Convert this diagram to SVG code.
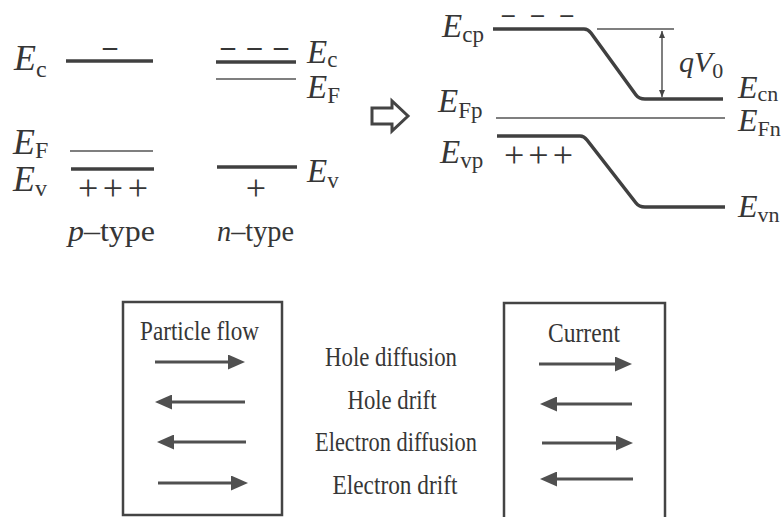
<svg xmlns="http://www.w3.org/2000/svg" width="782" height="517" viewBox="0 0 782 517">
<defs>
<style>
.t{font-family:"Liberation Serif","Times New Roman",serif;fill:#363636;}
.i{font-style:italic;}
.n{font-style:normal;}
.d{font-weight:bold;}
.thick{stroke:#404040;stroke-width:3.5;fill:none;stroke-linejoin:round;}
.thin{stroke:#555;stroke-width:1.5;fill:none;}
.box{stroke:#444;stroke-width:2.5;fill:none;}
.arr{stroke:#505050;stroke-width:3;fill:none;marker-end:url(#ah);}
</style>
<marker id="ah" markerUnits="userSpaceOnUse" markerWidth="17" markerHeight="15" refX="4" refY="7.5" orient="auto">
<path d="M0,0 L17,7.5 L0,15 Z" fill="#505050"/>
</marker>
<marker id="sa" markerUnits="userSpaceOnUse" markerWidth="8" markerHeight="8" refX="7" refY="4" orient="auto-start-reverse">
<path d="M0,1 L7,4 L0,7 Z" fill="#444"/>
</marker>
</defs>
<rect width="782" height="517" fill="#fff"/>

<g id="p-type">
<line class="thick" x1="66" y1="61" x2="153" y2="61"/>
<line class="thin" x1="70" y1="151" x2="153" y2="151"/>
<line class="thick" x1="71" y1="169" x2="154" y2="169"/>
<text class="t d" x="110" y="55" font-size="28" text-anchor="middle">–</text>
<text class="t" x="78" y="200" font-size="36" textLength="70" lengthAdjust="spacing">+++</text>
<text class="t i" x="14" y="70" font-size="36">E<tspan class="n" font-size="24" dy="7">c</tspan></text>
<text class="t i" x="13" y="154" font-size="36">E<tspan class="n" font-size="24" dy="4">F</tspan></text>
<text class="t i" x="13" y="191" font-size="36">E<tspan class="n" font-size="24" dy="5">v</tspan></text>
<text class="t" x="68" y="241" font-size="30" textLength="87" lengthAdjust="spacingAndGlyphs"><tspan class="i">p</tspan>–type</text>
</g>

<g id="n-type">
<line class="thick" x1="216" y1="62" x2="296" y2="62"/>
<line class="thin" x1="216" y1="79" x2="296" y2="79"/>
<line class="thick" x1="217" y1="167" x2="297" y2="167"/>
<text class="t d" x="221" y="55" font-size="28" textLength="67" lengthAdjust="spacing">–––</text>
<text class="t" x="256" y="200" font-size="36" text-anchor="middle">+</text>
<text class="t i" x="307" y="63" font-size="33">E<tspan class="n" font-size="23" dy="4">c</tspan></text>
<text class="t i" x="307" y="98" font-size="33">E<tspan class="n" font-size="23" dy="5">F</tspan></text>
<text class="t i" x="307" y="182" font-size="33">E<tspan class="n" font-size="23" dy="6">v</tspan></text>
<text class="t" x="217" y="241" font-size="30" textLength="77" lengthAdjust="spacingAndGlyphs"><tspan class="i">n</tspan>–type</text>
</g>

<g id="transition-arrow">
<path d="M372,108 L392,108 L392,101 L408,116 L392,131 L392,124 L372,124 Z" fill="#fff" stroke="#444" stroke-width="3" stroke-linejoin="miter"/>
</g>

<g id="junction">
<path class="thick" d="M493,29 L584,29 Q588,29 591,33 L636,95 Q639,99 645,99 L723,99"/>
<path class="thick" d="M497,136 L580,136 Q584,136 587,140 L636,203 Q639,207 645,207 L725,207"/>
<line class="thin" x1="496" y1="118" x2="725" y2="118"/>
<line class="thin" x1="597" y1="29" x2="674" y2="29"/>
<text class="t d" x="502" y="22" font-size="25" textLength="71" lengthAdjust="spacing">–––</text>
<text class="t" x="504" y="167" font-size="36" textLength="69" lengthAdjust="spacing">+++</text>
<text class="t i" x="442" y="37" font-size="33">E<tspan class="n" font-size="23" dy="5">cp</tspan></text>
<text class="t i" x="438" y="112" font-size="33">E<tspan class="n" font-size="23" dy="6">Fp</tspan></text>
<text class="t i" x="440" y="163" font-size="33">E<tspan class="n" font-size="23" dy="5">vp</tspan></text>
<text class="t i" x="738" y="98" font-size="32">E<tspan class="n" font-size="22" dy="3">cn</tspan></text>
<text class="t i" x="738" y="131" font-size="32">E<tspan class="n" font-size="22" dy="5">Fn</tspan></text>
<text class="t i" x="738" y="217" font-size="32">E<tspan class="n" font-size="22" dy="5">vn</tspan></text>
<text class="t i" x="679" y="72" font-size="30">qV<tspan class="n" font-size="22" dy="6">0</tspan></text>
</g>

<g id="particle-flow-box">
<rect class="box" x="123" y="302" width="159" height="213"/>
<text class="t" x="140" y="340" font-size="28" textLength="119" lengthAdjust="spacingAndGlyphs">Particle flow</text>
</g>

<g id="labels">
<text class="t" x="391" y="366" font-size="28" text-anchor="middle" textLength="132" lengthAdjust="spacingAndGlyphs">Hole diffusion</text>
<text class="t" x="392" y="409" font-size="28" text-anchor="middle" textLength="89" lengthAdjust="spacingAndGlyphs">Hole drift</text>
<text class="t" x="396" y="451" font-size="28" text-anchor="middle" textLength="162" lengthAdjust="spacingAndGlyphs">Electron diffusion</text>
<text class="t" x="395" y="494" font-size="28" text-anchor="middle" textLength="125" lengthAdjust="spacingAndGlyphs">Electron drift</text>
</g>

<g id="current-box">
<rect class="box" x="504" y="303" width="161" height="216"/>
<text class="t" x="548" y="342" font-size="28" textLength="72" lengthAdjust="spacingAndGlyphs">Current</text>
</g>

<g id="connectors">
<line class="thin" x1="662" y1="31" x2="662" y2="97" stroke-width="1.2" marker-start="url(#sa)" marker-end="url(#sa)"/>
<line class="arr" x1="155" y1="362" x2="232" y2="362"/>
<line class="arr" x1="245" y1="402" x2="168" y2="402"/>
<line class="arr" x1="246" y1="442" x2="170" y2="442"/>
<line class="arr" x1="158" y1="483" x2="235" y2="483"/>
<line class="arr" x1="539" y1="364" x2="619" y2="364"/>
<line class="arr" x1="632" y1="404" x2="553" y2="404"/>
<line class="arr" x1="542" y1="443" x2="620" y2="443"/>
<line class="arr" x1="633" y1="479" x2="553" y2="479"/>
</g>
</svg>
